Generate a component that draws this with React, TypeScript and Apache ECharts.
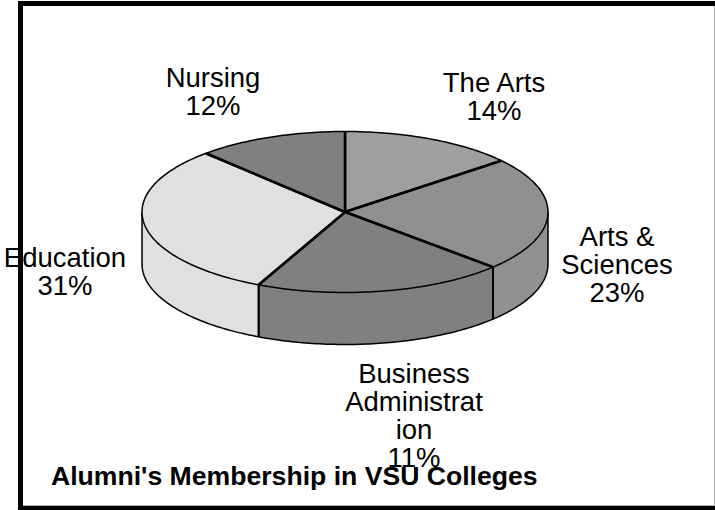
import React, { useEffect, useRef } from "react";
import * as echarts from "echarts";

const categories = ["The Arts", "Arts & Sciences", "Business Administration", "Education", "Nursing"];
const sliceValues = [14, 23, 20, 31, 12];
const sliceColors = ["#9f9f9f", "#909090", "#808080", "#e0e0e0", "#808080"];
const labelLines = [
  ["The Arts", "14%"],
  ["Arts &", "Sciences", "23%"],
  ["Business", "Administrat", "ion", "11%"],
  ["Education", "31%"],
  ["Nursing", "12%"],
];
const labelCenters = [
  [494, 88],
  [617, 242],
  [414, 379],
  [65, 263],
  [213, 83],
];
const titleText = "Alumni's Membership in VSU Colleges";

const CX = 345, CY = 212, RX = 203, RY = 80.5, DEPTH = 52;

function pt(deg: number, dy = 0): number[] {
  const a = (deg * Math.PI) / 180;
  return [CX + RX * Math.sin(a), CY - RY * Math.cos(a) + dy];
}
function arc(from: number, to: number, dy = 0): number[][] {
  const out: number[][] = [];
  const n = Math.max(2, Math.ceil(Math.abs(to - from)));
  for (let i = 0; i <= n; i++) out.push(pt(from + ((to - from) * i) / n, dy));
  return out;
}

const total = sliceValues.reduce((s, v) => s + v, 0);
const starts: number[] = [];
sliceValues.reduce((acc, v, i) => {
  starts[i] = (acc / total) * 360;
  return acc + v;
}, 0);

function renderItem(params: any, api: any) {
  const i = params.dataIndex;
  const start = starts[i];
  const end = start + (api.value(0) / total) * 360;
  const color = sliceColors[i];
  const children: any[] = [];
  const s0 = Math.max(start, 90), s1 = Math.min(end, 270);
  if (s1 > s0) {
    const top = arc(s0, s1);
    const bottom = arc(s1, s0, DEPTH);
    children.push({ type: "polygon", shape: { points: [...top, ...bottom] }, style: { fill: color, stroke: "none" } });
    children.push({ type: "polyline", shape: { points: arc(s0, s1, DEPTH) }, style: { fill: "none", stroke: "#000", lineWidth: 1.5 } });
    [s0, s1].forEach((s) => {
      const a = pt(s), b = pt(s, DEPTH);
      children.push({ type: "line", shape: { x1: a[0], y1: a[1], x2: b[0], y2: b[1] }, style: { stroke: "#000", lineWidth: s === 90 || s === 270 ? 1.5 : 2 } });
    });
  }
  return { type: "group", children };
}

function renderTop(params: any, api: any) {
  const i = params.dataIndex;
  const start = starts[i];
  const end = start + (api.value(0) / total) * 360;
  const edge = arc(start, end);
  const p0 = pt(start), p1 = pt(end);
  return {
    type: "group",
    children: [
      { type: "polygon", shape: { points: [[CX, CY], ...edge] }, style: { fill: sliceColors[i], stroke: "none" } },
      { type: "polyline", shape: { points: edge }, style: { fill: "none", stroke: "#000", lineWidth: 1.5 } },
      { type: "line", shape: { x1: CX, y1: CY, x2: p0[0], y2: p0[1] }, style: { stroke: "#000", lineWidth: 2.6 } },
      { type: "line", shape: { x1: CX, y1: CY, x2: p1[0], y2: p1[1] }, style: { stroke: "#000", lineWidth: 2.6 } },
    ],
  };
}

export default function App() {
  const ref = useRef<HTMLDivElement>(null);
  useEffect(() => {
    const chart = echarts.init(ref.current!, undefined, { renderer: "svg" });
    const font = "'Liberation Sans', Arial, sans-serif";
    const labels = labelLines.map((lines, i) => ({
      type: "text",
      x: labelCenters[i][0],
      y: labelCenters[i][1] - 20,
      z: 10,
      style: {
        text: lines.join("\n"),
        fill: "#000",
        font: `27.5px ${font}`,
        lineHeight: 28,
        align: "center",
        verticalAlign: "top",
      },
    }));
    const bar = (x: number, y: number, width: number, height: number, fill: string) => ({
      type: "rect",
      z: 0,
      shape: { x, y, width, height },
      style: { fill, stroke: "none" },
    });
    chart.setOption({
      animation: false,
      backgroundColor: "#fff",
      series: [
        {
          type: "custom",
          coordinateSystem: "none",
          renderItem,
          data: sliceValues.map((v, i) => ({ name: categories[i], value: [v] })),
          z: 2,
          silent: true,
        },
        {
          type: "custom",
          coordinateSystem: "none",
          renderItem: renderTop,
          data: sliceValues.map((v, i) => ({ name: categories[i], value: [v] })),
          z: 3,
          silent: true,
        },
      ],
      graphic: [
        bar(18, 1, 697, 5, "#000"),
        bar(18, 1, 5, 509, "#000"),
        bar(18, 506, 697, 4, "#000"),
        bar(714, 6, 1, 500, "#b0b0b0"),
        bar(23, 505, 692, 1, "#b0b0b0"),
        ...labels,
        {
          type: "text",
          x: 51,
          y: 462,
          z: 11,
          style: { text: titleText, fill: "#000", font: `bold 26.6px ${font}`, verticalAlign: "top" },
        },
      ],
    });
    return () => chart.dispose();
  }, []);
  return <div ref={ref} style={{ position: "absolute", left: 0, top: 0, width: 715, height: 510 }} />;
}
